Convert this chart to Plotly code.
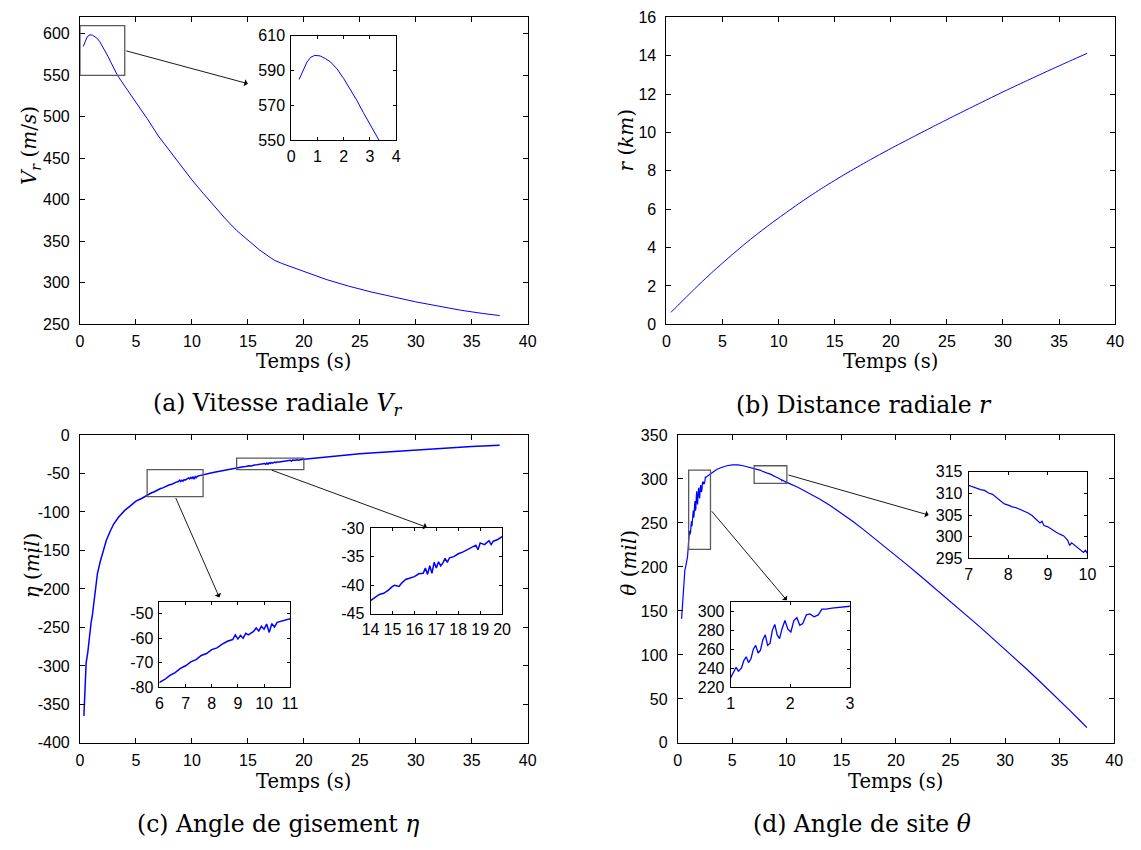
import plotly.graph_objects as go

# target picture is 1141x850; the page body keeps its default 8px margin
OX, OY = 8, 8
FW, FH = 1141 - 2 * OX, 850 - 2 * OY

# ---------------- data ----------------
t_vr = [0.3, 0.45, 0.6, 0.75, 0.9, 1.1, 1.3, 1.5, 1.75, 2.0, 2.25, 2.5, 2.75, 3.0, 3.35,
        4, 5, 6, 7, 8, 9, 10, 11, 12, 13, 14, 15, 16, 17, 17.4, 18, 19, 20, 22, 24, 26,
        28, 30, 32, 34, 36, 37.5]
vr = [585, 590.5, 595, 597.8, 598.8, 598.5, 597, 595, 591, 585.5, 579.5, 573, 566, 559, 550,
      537, 518, 498, 477, 459, 441, 424, 408, 392, 377, 363, 351, 340, 330.5, 327, 323.5,
      318.5, 314, 304, 296, 289, 283, 277, 272, 267, 263, 260.5]

t_r = [0.4, 1, 2, 3, 4, 5, 6, 7, 8, 9, 10, 12, 14, 16, 18, 20, 22, 24, 26, 28, 30,
       32, 34, 36, 37.5]
r_km = [0.62, 0.97, 1.55, 2.12, 2.67, 3.19, 3.70, 4.19, 4.66, 5.11, 5.54, 6.37, 7.14, 7.85,
        8.52, 9.16, 9.77, 10.37, 10.96, 11.54, 12.11, 12.66, 13.2, 13.73, 14.12]

t_eta = [0.35, 0.45, 0.55, 0.7, 0.85, 1.0, 1.1, 1.3, 1.56, 1.8, 2.0, 2.35, 2.7, 3.0, 3.44, 4.0,
         4.5, 5.0, 5.5,
         6.0, 6.2, 6.4, 6.6, 6.8, 7.0, 7.2, 7.4, 7.6, 7.8, 8.0, 8.2, 8.4, 8.6, 8.8, 8.9, 9.0,
         9.1, 9.2, 9.3, 9.4, 9.6, 9.7, 9.8, 9.9, 10.0, 10.1, 10.2, 10.3, 10.4, 10.5, 10.7,
         10.9, 11.0,
         11.5, 12.0, 12.5, 13.0, 13.5,
         14.0, 14.2, 14.4, 14.6, 14.8, 15.0, 15.1, 15.3, 15.4, 15.6, 15.8, 16.0, 16.2, 16.4,
         16.5, 16.6, 16.7, 16.8, 16.9, 17.0, 17.1, 17.2, 17.3, 17.4, 17.5, 17.6, 17.8, 18.0,
         18.2, 18.4, 18.6, 18.8, 18.9, 19.0, 19.2, 19.4, 19.5, 19.6, 19.8, 20.0,
         21, 22, 23, 24, 25, 26, 27, 28, 29, 30, 31, 32, 33, 34, 35, 36, 37, 37.5]
eta = [-365, -320, -296, -282, -258, -243, -235, -208, -180, -165, -154, -137, -125, -116,
       -107, -98, -92, -86, -82.5,
       -78.0, -76.8, -75.1, -74.0, -72.3, -71.2, -69.6, -68.7, -67.0, -66.2, -64.6, -63.9,
       -62.4, -61.2, -60.5, -58.6, -60.3, -58.8, -60.0, -58.0, -58.6, -57.2, -55.8, -57.0,
       -55.1, -56.3, -54.2, -57.6, -54.0, -55.4, -53.5, -52.8, -51.9, -51.5,
       -50.0, -48.3, -46.8, -45.4, -43.9,
       -42.7, -42.2, -41.6, -41.4, -40.9, -40.2, -40.0, -40.2, -39.7, -39.0, -38.8, -38.5,
       -38.0, -37.9, -37.0, -38.1, -36.6, -37.9, -36.0, -37.0, -35.9, -36.6, -36.1, -35.3,
       -36.0, -35.2, -35.0, -34.5, -34.2, -33.8, -33.5, -33.0, -33.8, -32.6, -32.9, -32.2,
       -32.9, -32.3, -32.0, -31.5,
       -30.0, -29.0, -27.5, -26.0, -24.5, -23.5, -22.5, -21.3, -20.2, -19.3, -18.5, -17.5,
       -16.6, -15.8, -15.0, -14.3, -13.3, -13.5]

t_theta = [0.35, 0.5, 0.65, 0.8, 0.9,
           1.00, 1.05, 1.09, 1.13, 1.18, 1.22, 1.26, 1.30, 1.34, 1.38, 1.42, 1.46, 1.50,
           1.54, 1.58, 1.62, 1.66, 1.70, 1.74, 1.78, 1.82, 1.86, 1.91, 1.96, 2.01, 2.06,
           2.11, 2.16, 2.21, 2.27, 2.33, 2.40, 2.47, 2.53, 2.60, 2.70, 2.80, 2.90, 3.00,
           3.3, 3.6, 4.0, 4.5, 5.0, 5.5, 6.0, 6.5,
           7.0, 7.1, 7.2, 7.3, 7.4, 7.5, 7.6, 7.7, 7.8, 7.9, 8.0, 8.1, 8.2, 8.3, 8.4, 8.5,
           8.6, 8.7, 8.8, 8.85, 8.9, 9.0, 9.1, 9.2, 9.3, 9.4, 9.5, 9.55, 9.6, 9.7, 9.8, 9.9,
           9.95, 10.0,
           11, 12, 13, 14, 15, 16, 17, 18, 19, 20, 21, 22, 23, 24, 25, 26, 27, 28, 29, 30,
           31, 32, 33, 34, 35, 36, 37, 37.5]
theta = [141, 172, 196, 205, 212,
         230, 236, 241, 237, 240, 248, 252, 246, 250, 260, 264, 256, 259, 270, 275, 264,
         266, 280, 286, 275, 271, 281, 290, 281, 278, 290, 293, 285, 287, 296, 297, 294,
         296, 302, 302, 303, 304, 305, 306,
         309, 311, 313, 315, 316, 316, 315, 313.5,
         311.8, 311.6, 311.2, 310.9, 310.7, 310.1, 309.8, 309.0, 308.4, 307.6, 307.3, 306.9,
         306.7, 306.3, 306.0, 305.5, 304.9, 304.1, 303.2, 303.6, 302.6, 302.3, 301.6, 301.1,
         300.6, 300.2, 299.2, 298.0, 298.6, 297.9, 297.0, 296.4, 296.9, 296.1,
         290.6, 284.3, 277.3, 269.6, 261.2, 252.2, 242.7, 232.9, 222.9, 212.8, 202.6, 192.3,
         181.9, 171.4, 160.8, 150.1, 139.3, 128.4, 117.4, 106.3, 95.1, 83.7, 72.1, 60.3,
         48.3, 36.1, 23.7, 17.4]

# zoom windows (x0, x1, y0, y1) shared by rectangles and insets
zoom_a = [0, 4, 550, 610]
zoom_c1 = [6, 11, -80, -45]
zoom_c2 = [14, 20, -45, -30]
zoom_d1 = [1, 3, 220, 310]
zoom_d2 = [7, 10, 295, 315]

# ---------------- layout helpers (positions given in picture pixels) ----------------
def px_x(a, b):
    return [(a - OX) / FW, (b - OX) / FW]

def px_y(top, bottom):
    return [1 - (bottom - OY) / FH, 1 - (top - OY) / FH]

TICKFONT = dict(family="Liberation Sans, Arial, sans-serif", size=16, color="black")
SERIF = "DejaVu Serif, serif"
BLUE = "#0000FF"


def ax(domain, rng, tickvals, anchor, ticklen=5, labels=None, standoff=None):
    d = dict(domain=domain, range=rng, tickvals=tickvals,
             ticktext=labels if labels is not None else [str(v) for v in tickvals],
             ticks="inside", ticklen=ticklen, tickwidth=1, tickcolor="black",
             showline=True, linecolor="black", linewidth=1, mirror="allticks",
             showgrid=False, zeroline=False, tickfont=TICKFONT, anchor=anchor,
             fixedrange=True)
    if standoff is not None:
        d["ticklabelstandoff"] = standoff
    return d


def lab(vals):
    return [("-" + str(abs(v))) if v < 0 else str(v) for v in vals]


fig = go.Figure()

# main traces
fig.add_trace(go.Scatter(x=t_vr, y=vr, mode="lines", line=dict(color=BLUE, width=1), xaxis="x", yaxis="y"))
fig.add_trace(go.Scatter(x=t_r, y=r_km, mode="lines", line=dict(color=BLUE, width=1, shape="spline", smoothing=0.6), xaxis="x2", yaxis="y2"))
fig.add_trace(go.Scatter(x=t_eta, y=eta, mode="lines", line=dict(color=BLUE, width=1.5), xaxis="x3", yaxis="y3"))
fig.add_trace(go.Scatter(x=t_theta, y=theta, mode="lines", line=dict(color=BLUE, width=1.2), xaxis="x4", yaxis="y4"))
# inset traces (same series, zoomed axes)
fig.add_trace(go.Scatter(x=t_vr, y=vr, mode="lines", line=dict(color=BLUE, width=1), xaxis="x5", yaxis="y5"))
fig.add_trace(go.Scatter(x=t_eta, y=eta, mode="lines", line=dict(color=BLUE, width=1.5), xaxis="x6", yaxis="y6"))
fig.add_trace(go.Scatter(x=t_eta, y=eta, mode="lines", line=dict(color=BLUE, width=1.5), xaxis="x7", yaxis="y7"))
fig.add_trace(go.Scatter(x=t_theta, y=theta, mode="lines", line=dict(color=BLUE, width=1.3), xaxis="x8", yaxis="y8"))
fig.add_trace(go.Scatter(x=t_theta, y=theta, mode="lines", line=dict(color=BLUE, width=1.2), xaxis="x9", yaxis="y9"))

xt = [0, 5, 10, 15, 20, 25, 30, 35, 40]
SY = 6
SX = 3
layout_axes = dict(
    xaxis=ax(px_x(72, 527), [0, 40], xt, "y", standoff=SX),
    yaxis=ax(px_y(9.3, 322.7), [250, 620], [250, 300, 350, 400, 450, 500, 550, 600], "x", standoff=SY),
    xaxis2=ax(px_x(668, 1124), [0, 40], xt, "y2", standoff=SX),
    yaxis2=ax(px_y(9.3, 322.7), [0, 16], [0, 2, 4, 6, 8, 10, 12, 14, 16], "x2", standoff=SY),
    xaxis3=ax(px_x(72, 527), [0, 40], xt, "y3", standoff=SX),
    yaxis3=ax(px_y(435.7, 750), [-400, 0], list(range(-400, 1, 50)), "x3",
              labels=lab(list(range(-400, 1, 50))), standoff=SY),
    xaxis4=ax(px_x(679.5, 1123), [0, 40], xt, "y4", standoff=SX),
    yaxis4=ax(px_y(435.7, 750), [0, 350], list(range(0, 351, 50)), "x4", standoff=SY),
    # insets
    xaxis5=ax(px_x(286.7, 393.3), zoom_a[:2], [0, 1, 2, 3, 4], "y5", ticklen=3, standoff=1),
    yaxis5=ax(px_y(28.3, 135), zoom_a[2:], [550, 570, 590, 610], "x5", ticklen=3, standoff=2),
    xaxis6=ax(px_x(152.8, 285.6), zoom_c1[:2], [6, 7, 8, 9, 10, 11], "y6", ticklen=3, standoff=1),
    yaxis6=ax(px_y(605.7, 693.3), zoom_c1[2:], [-80, -70, -60, -50], "x6", ticklen=3,
              labels=lab([-80, -70, -60, -50]), standoff=2),
    xaxis7=ax(px_x(367.3, 501), zoom_c2[:2], [14, 15, 16, 17, 18, 19, 20], "y7", ticklen=3, standoff=1),
    yaxis7=ax(px_y(530.7, 618.3), zoom_c2[2:], [-45, -40, -35, -30], "x7", ticklen=3,
              labels=lab([-45, -40, -35, -30]), standoff=2),
    xaxis8=ax(px_x(733.3, 854.4), zoom_d1[:2], [1, 2, 3], "y8", ticklen=3, standoff=1),
    yaxis8=ax(px_y(605.7, 693.3), zoom_d1[2:], [220, 240, 260, 280, 300], "x8", ticklen=3, standoff=2),
    xaxis9=ax(px_x(975.2, 1095.9), zoom_d2[:2], [7, 8, 9, 10], "y9", ticklen=3, standoff=1),
    yaxis9=ax(px_y(473.3, 561.7), zoom_d2[2:], [295, 300, 305, 310, 315], "x9", ticklen=3, standoff=2),
)

shapes = []
# white backgrounds of the insets (drawn inside the inset subplot, below its trace)
for i, z in zip([5, 6, 7, 8, 9], [zoom_a, zoom_c1, zoom_c2, zoom_d1, zoom_d2]):
    shapes.append(dict(type="rect", xref=f"x{i}", yref=f"y{i}", x0=z[0], x1=z[1], y0=z[2], y1=z[3],
                       fillcolor="white", line=dict(width=0), layer="below"))
# zoom rectangles on the main plots
for (xr, yr), z in zip([("x", "y"), ("x3", "y3"), ("x3", "y3"), ("x4", "y4"), ("x4", "y4")],
                       [zoom_a, zoom_c1, zoom_c2, zoom_d1, zoom_d2]):
    shapes.append(dict(type="rect", xref=xr, yref=yr, x0=z[0], x1=z[1], y0=z[2], y1=z[3],
                       line=dict(color="#5a5a5a", width=1.3), fillcolor="rgba(0,0,0,0)", layer="above"))

annotations = []
# arrows (tail at zoom rectangle, head near inset), in main-axis data coordinates
arrows = [
    ("x", "y", 4, 580, 15, 540),
    ("x3", "y3", 8.5, -80, 12.45, -211),
    ("x3", "y3", 17, -45, 31, -120),
    ("x4", "y4", 3, 265, 10, 162),
    ("x4", "y4", 10, 305, 23, 259),
]
for xr, yr, x0, y0, x1, y1 in arrows:
    annotations.append(dict(xref=xr, yref=yr, axref=xr, ayref=yr, x=x1, y=y1, ax=x0, ay=y0,
                            text="", showarrow=True, arrowhead=1, arrowsize=1.3, arrowwidth=0.9,
                            arrowcolor="black", standoff=0, startstandoff=0))


def txt(text, xpx, ypx, size, angle=0):
    annotations.append(dict(xref="paper", yref="paper", x=(xpx - OX) / FW, y=1 - (ypx - OY) / FH,
                            text=text, showarrow=False, xanchor="center", yanchor="middle",
                            textangle=angle, font=dict(family=SERIF, size=size, color="black")))


# x-axis titles
for xc, yc in [(299.5, 361), (896, 361), (299.5, 789), (901, 789)]:
    txt("Temps (s)", xc, yc, 19.5)
# y-axis titles
txt("<i>V</i><sub><i>r</i></sub> (<i>m</i>/<i>s</i>)", 22, 140, 20, -90)
txt("<i>r</i> (<i>km</i>)", 627, 135, 20, -90)
txt("<i>η</i> (<i>mil</i>)", 23, 569, 20, -90)
txt("<i>θ</i> (<i>mil</i>)", 630, 566, 20, -90)
# captions
txt("(a) Vitesse radiale <i>V</i><sub><i>r</i></sub>", 273, 405, 23.5)
txt("(b) Distance radiale <i>r</i>", 869, 405, 23.5)
txt("(c) Angle de gisement <i>η</i>", 273, 833, 23.5)
txt("(d) Angle de site <i>θ</i>", 867, 833, 23.5)

fig.update_layout(
    width=FW, height=FH, autosize=False,
    margin=dict(l=0, r=0, t=0, b=0, pad=0),
    paper_bgcolor="white", plot_bgcolor="white",
    showlegend=False,
    shapes=shapes, annotations=annotations,
    **layout_axes,
)

fig.write_html("out.html", config={"displayModeBar": False})
